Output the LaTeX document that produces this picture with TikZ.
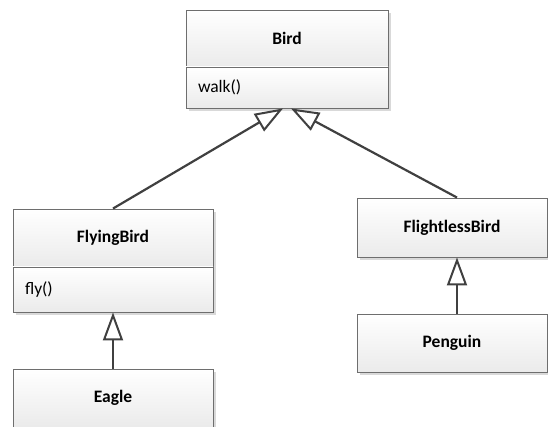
\documentclass[tikz,border=0pt]{standalone}
\usepackage{fontspec}
\setmainfont{Carlito}
\usetikzlibrary{arrows.meta,shadows}
\definecolor{boxline}{HTML}{6E6E6E}
\definecolor{conn}{HTML}{404040}
\tikzset{
  cls/.style={draw=boxline, line width=0.9pt, top color=white, bottom color=black!8,
    drop shadow={shadow xshift=3pt, shadow yshift=-3pt, fill=black!15, opacity=1},
    inner sep=0pt, font=\fontsize{17.5}{20}\selectfont},
  hdr/.style={cls, font=\fontsize{17.5}{20}\selectfont\bfseries, align=center},
  body/.style={cls, text width=#1, align=left},
  inh/.style={draw=conn, line width=2.2pt, -{Triangle[open, width=20pt, length=28pt, line width=2pt]}}
}
\begin{document}
\begin{tikzpicture}[x=1pt,y=-1pt]
\useasboundingbox (0,0) rectangle (548,427);
% Bird
\node[hdr, minimum width=202pt, minimum height=57pt] (birdh) at (287,38.5) {Bird};
\node[body=178pt, minimum width=202pt, minimum height=41pt] (birdb) at (287,87.5) {walk()};
% FlyingBird
\node[hdr, minimum width=200pt, minimum height=58pt] (flyh) at (113,238) {FlyingBird};
\node[body=176pt, minimum width=200pt, minimum height=45pt] (flyb) at (113,289.5) {fly()};
% Eagle
\node[hdr, minimum width=200pt, minimum height=58pt] (eagle) at (113,398) {Eagle};
% FlightlessBird
\node[hdr, minimum width=190pt, minimum height=59pt] (flless) at (452,227.5) {FlightlessBird};
% Penguin
\node[hdr, minimum width=190pt, minimum height=58pt] (penguin) at (452,343) {Penguin};
% connectors
\draw[inh] (flyh.north) -- ([xshift=-4pt]birdb.south);
\draw[inh] ([xshift=5pt]flless.north) -- ([xshift=4pt]birdb.south);
\draw[inh] (eagle.north) -- (flyb.south);
\draw[inh] ([xshift=5pt]penguin.north) -- ([xshift=5pt]flless.south);
\end{tikzpicture}
\end{document}
